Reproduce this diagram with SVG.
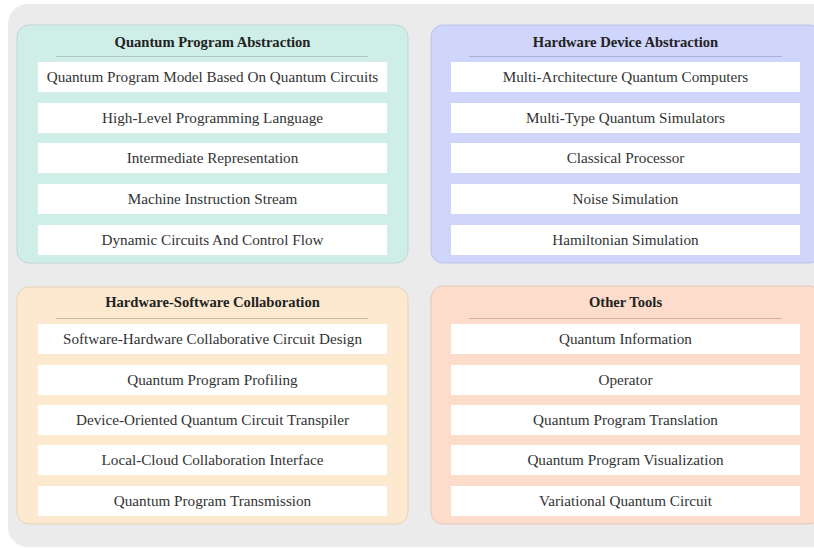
<svg xmlns="http://www.w3.org/2000/svg" width="814" height="548" viewBox="0 0 814 548">
<style>
.bg{fill:#ebebeb;}
.item{fill:#ffffff;}
.t{font-family:"Liberation Serif","Times New Roman",serif;font-size:15.2px;fill:#333333;text-anchor:middle;}
.h{font-family:"Liberation Serif","Times New Roman",serif;font-size:14.6px;font-weight:bold;fill:#222222;text-anchor:middle;}
.p1{fill:#cfeee7;stroke:#bcd9d3;stroke-width:1;}
.p2{fill:#cfd5fb;stroke:#bcc3e6;stroke-width:1;}
.p3{fill:#fde9cf;stroke:#e6d3bb;stroke-width:1;}
.p4{fill:#fddccb;stroke:#e6c8b9;stroke-width:1;}
.s1{stroke:#a9c6c1;stroke-width:1;}
.s2{stroke:#a9b1d9;stroke-width:1;}
.s3{stroke:#c9bba9;stroke-width:1;}
.s4{stroke:#c9b2a8;stroke-width:1;}
</style>
<rect class="bg" x="8" y="4" width="830" height="543" rx="20"/>
<g id="connectors"/>
<g id="panel-quantum-program-abstraction">
<rect class="p1" x="17" y="25" width="391" height="238" rx="12"/>
<text class="h" x="212.5" y="47">Quantum Program Abstraction</text>
<line class="s1" x1="56" y1="56.5" x2="368" y2="56.5"/>
<rect class="item" x="38" y="62" width="349" height="30"/>
<text class="t" x="212.5" y="82">Quantum Program Model Based On Quantum Circuits</text>
<rect class="item" x="38" y="103" width="349" height="30"/>
<text class="t" x="212.5" y="123">High-Level Programming Language</text>
<rect class="item" x="38" y="143" width="349" height="30"/>
<text class="t" x="212.5" y="163">Intermediate Representation</text>
<rect class="item" x="38" y="184" width="349" height="30"/>
<text class="t" x="212.5" y="204">Machine Instruction Stream</text>
<rect class="item" x="38" y="225" width="349" height="30"/>
<text class="t" x="212.5" y="245">Dynamic Circuits And Control Flow</text>
</g>
<g id="panel-hardware-device-abstraction">
<rect class="p2" x="431" y="25" width="390" height="238" rx="12"/>
<text class="h" x="625.5" y="47">Hardware Device Abstraction</text>
<line class="s2" x1="469" y1="56.5" x2="782" y2="56.5"/>
<rect class="item" x="451" y="62" width="349" height="30"/>
<text class="t" x="625.5" y="82">Multi-Architecture Quantum Computers</text>
<rect class="item" x="451" y="103" width="349" height="30"/>
<text class="t" x="625.5" y="123">Multi-Type Quantum Simulators</text>
<rect class="item" x="451" y="143" width="349" height="30"/>
<text class="t" x="625.5" y="163">Classical Processor</text>
<rect class="item" x="451" y="184" width="349" height="30"/>
<text class="t" x="625.5" y="204">Noise Simulation</text>
<rect class="item" x="451" y="225" width="349" height="30"/>
<text class="t" x="625.5" y="245">Hamiltonian Simulation</text>
</g>
<g id="panel-hardware-software-collaboration">
<rect class="p3" x="17" y="287" width="391" height="237" rx="12"/>
<text class="h" x="212.5" y="307">Hardware-Software Collaboration</text>
<line class="s3" x1="56" y1="318.5" x2="368" y2="318.5"/>
<rect class="item" x="38" y="324" width="349" height="30"/>
<text class="t" x="212.5" y="344">Software-Hardware Collaborative Circuit Design</text>
<rect class="item" x="38" y="365" width="349" height="30"/>
<text class="t" x="212.5" y="385">Quantum Program Profiling</text>
<rect class="item" x="38" y="405" width="349" height="30"/>
<text class="t" x="212.5" y="425">Device-Oriented Quantum Circuit Transpiler</text>
<rect class="item" x="38" y="445" width="349" height="30"/>
<text class="t" x="212.5" y="465">Local-Cloud Collaboration Interface</text>
<rect class="item" x="38" y="486" width="349" height="30"/>
<text class="t" x="212.5" y="506">Quantum Program Transmission</text>
</g>
<g id="panel-other-tools">
<rect class="p4" x="431" y="286" width="390" height="238" rx="12"/>
<text class="h" x="625.5" y="307">Other Tools</text>
<line class="s4" x1="469" y1="318.5" x2="782" y2="318.5"/>
<rect class="item" x="451" y="324" width="349" height="30"/>
<text class="t" x="625.5" y="344">Quantum Information</text>
<rect class="item" x="451" y="365" width="349" height="30"/>
<text class="t" x="625.5" y="385">Operator</text>
<rect class="item" x="451" y="405" width="349" height="30"/>
<text class="t" x="625.5" y="425">Quantum Program Translation</text>
<rect class="item" x="451" y="445" width="349" height="30"/>
<text class="t" x="625.5" y="465">Quantum Program Visualization</text>
<rect class="item" x="451" y="486" width="349" height="30"/>
<text class="t" x="625.5" y="506">Variational Quantum Circuit</text>
</g>
</svg>
